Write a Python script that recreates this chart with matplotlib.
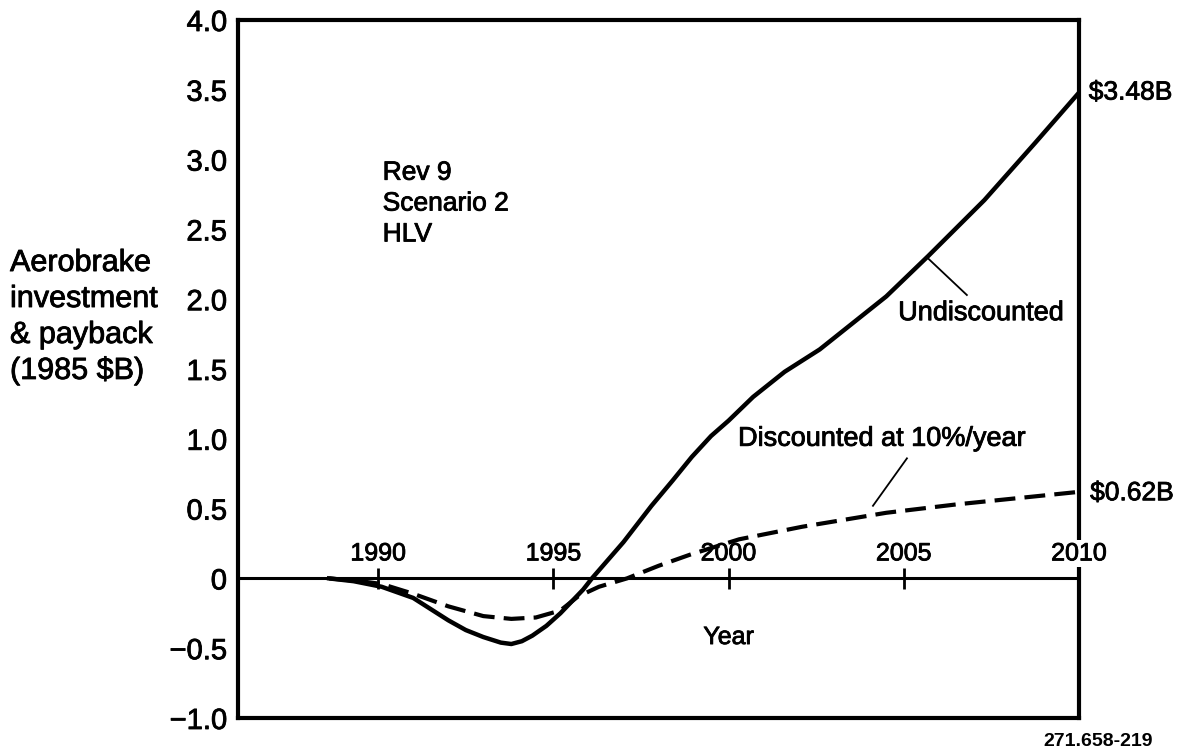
import matplotlib.pyplot as plt
import matplotlib.patheffects as pe

plt.rcParams['font.family'] = ['Liberation Sans', 'DejaVu Sans']

# Data (year, 1985 $B)
undisc_years = [1988.6, 1989.3, 1990.1, 1991.0, 1991.5, 1992.0, 1992.5, 1993.0, 1993.5, 1993.8,
                1994.1, 1994.4, 1994.8, 1995.2, 1995.85, 1996.1, 1997.0, 1997.8, 1998.4, 1998.95,
                1999.5, 2000.0, 2000.7, 2001.6, 2002.6, 2003.5, 2004.5, 2005.7, 2007.3, 2008.75, 2010.0]
undisc_vals = [0.0, -0.02, -0.06, -0.14, -0.22, -0.30, -0.37, -0.42, -0.46, -0.47,
               -0.45, -0.41, -0.34, -0.25, -0.08, 0.0, 0.26, 0.52, 0.70, 0.87,
               1.02, 1.13, 1.30, 1.48, 1.64, 1.82, 2.02, 2.31, 2.71, 3.12, 3.48]

disc_years = [1988.6, 1989.5, 1990.1, 1991.0, 1992.0, 1993.0, 1993.8, 1994.5, 1995.2, 1995.7,
              1996.3, 1997.1, 1998.0, 1998.9, 2000.3, 2002.1, 2004.5, 2006.5, 2008.45, 2010.0]
disc_vals = [0.0, -0.02, -0.04, -0.11, -0.20, -0.27, -0.29, -0.28, -0.23, -0.13,
             -0.06, 0.0, 0.09, 0.17, 0.28, 0.37, 0.47, 0.53, 0.58, 0.62]

year_ticks = [1990, 1995, 2000, 2005, 2010]
y_ticks = [-1.0, -0.5, 0, 0.5, 1.0, 1.5, 2.0, 2.5, 3.0, 3.5, 4.0]
y_labels = ['\u22121.0', '\u22120.5', '0', '0.5', '1.0', '1.5', '2.0', '2.5', '3.0', '3.5', '4.0']

# slightly heavier print look
heavy = [pe.withStroke(linewidth=0.6, foreground='black')]

fig = plt.figure(figsize=(11.79, 7.55), dpi=100)
ax = fig.add_axes([238 / 1179, 1 - 718 / 755, 841 / 1179, 698 / 755])

ax.set_xlim(1986, 2010)
ax.set_ylim(-1.0, 4.0)
for s in ax.spines.values():
    s.set_linewidth(3)

ax.set_xticks([])
ax.set_yticks(y_ticks)
ax.set_yticklabels(y_labels, fontsize=21)
ax.tick_params(axis='y', length=0, pad=8)
for lbl in ax.get_yticklabels():
    lbl.set_path_effects(heavy)

# zero line with year ticks
ax.axhline(0, color='black', lw=2.2, zorder=2)
ax.vlines(year_ticks[:-1], -0.075, 0.075, color='black', lw=2, zorder=2)
for yr in year_ticks:
    bbox = dict(facecolor='white', edgecolor='none', pad=1) if yr == 2010 else None
    ax.annotate(str(yr), (yr, 0), xytext=(0, 18), textcoords='offset points',
                ha='center', va='center', fontsize=18, bbox=bbox, zorder=6,
                annotation_clip=False, path_effects=heavy)
ax.text(2000, -0.42, 'Year', ha='center', va='center', fontsize=18, path_effects=heavy)

# curves
ax.plot(undisc_years, undisc_vals, color='black', lw=3.2, solid_joinstyle='round', zorder=4)
ax.plot(disc_years, disc_vals, color='black', lw=3.0, dashes=(5, 2.2), zorder=4)

# end values
ax.annotate('$3.48B', (2010, undisc_vals[-1]), xytext=(7, 0), textcoords='offset points',
            ha='left', va='center', fontsize=19, annotation_clip=False, path_effects=heavy)
ax.annotate('$0.62B', (2010, disc_vals[-1]), xytext=(8, -1), textcoords='offset points',
            ha='left', va='center', fontsize=19, annotation_clip=False, path_effects=heavy)

# curve labels with leader lines
ax.text(2004.84, 1.90, 'Undiscounted', ha='left', va='center', fontsize=19.5, path_effects=heavy)
ax.plot([2005.66, 2006.8], [2.30, 2.03], color='black', lw=1.3)
ax.text(2000.27, 1.0, 'Discounted at 10%/year', ha='left', va='center', fontsize=19.5,
        path_effects=heavy)
ax.plot([2005.09, 2004.12], [0.86, 0.52], color='black', lw=1.3)

ax.text(0.172, 0.737, 'Rev 9\nScenario 2\nHLV', transform=ax.transAxes,
        ha='left', va='center', fontsize=19, linespacing=1.36, path_effects=heavy)

fig.text(10 / 1179, 1 - 317 / 755, 'Aerobrake\ninvestment\n& payback\n(1985 $B)',
         ha='left', va='center', fontsize=22, linespacing=1.26, path_effects=heavy)
fig.text(1153 / 1179, 1 - 742 / 755, '271.658-219', ha='right', va='center',
         fontsize=14, fontweight='bold')

fig.savefig('out.png', dpi=100)
